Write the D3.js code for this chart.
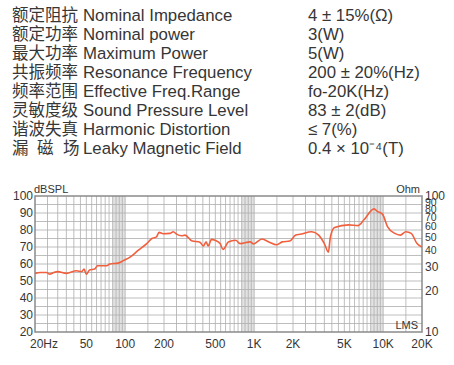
<!DOCTYPE html>
<html>
<head>
<meta charset="utf-8">
<script src="https://cdn.jsdelivr.net/npm/d3@7"></script>
<style>
  html, body { margin: 0; padding: 0; background: #fff; }
  svg { display: block; font-family: "Liberation Sans", Arial, sans-serif; }
</style>
</head>
<body>
<svg id="chart" width="454" height="365"></svg>
<script>
// spec table rows (last Chinese label is spread over the same width as the others)
const specCn = ['额定阻抗', '额定功率', '最大功率', '共振频率', '频率范围', '灵敏度级', '谐波失真', '漏 磁 场'];
const specEn = ['Nominal Impedance', 'Nominal power', 'Maximum Power', 'Resonance Frequency',
  'Effective Freq.Range', 'Sound Pressure Level', 'Harmonic Distortion', 'Leaky Magnetic Field'];
const specVal = ['4 ± 15%(Ω)', '3(W)', '5(W)', '200 ± 20%(Hz)', 'fo-20K(Hz)', '83 ± 2(dB)', '≤ 7(%)', '0.4 × 10⁻⁴(T)'];

// frequency response
const freqHz = [20, 22, 24.6, 26, 28, 30, 35, 42, 46, 48, 50, 53, 58, 61, 72, 76, 88, 97, 109, 126,
  147, 161, 175, 183, 197, 222, 236, 250, 274, 291, 328, 380, 404, 424, 440, 467, 497, 544, 573, 585,
  630, 719, 778, 932, 989, 1150, 1300, 1490, 1650, 1890, 2100, 2270, 2800, 3160, 3500, 3760, 3900, 4200,
  5400, 6400, 7100, 8500, 9000, 9900, 10800, 12300, 13600, 15000, 16500, 18300, 20000];
const splDb = [54.5, 55, 55, 54, 55, 55.5, 54.5, 56, 55.5, 57, 54, 56.5, 57, 59, 59, 60, 60.5, 62, 64, 68,
  72, 75, 76, 78.6, 77.8, 78, 79, 77.6, 76.6, 77, 73.7, 72.8, 70.6, 73, 70.6, 74.5, 74, 72, 68.6, 69,
  73, 74, 72, 73, 71.8, 74.7, 73, 71.3, 73, 73.5, 77, 77.5, 79, 77, 72, 67, 76, 81.5,
  83, 82.6, 86, 92.4, 91, 89.2, 82, 78, 77, 79, 78, 72, 70];

// axis ticks
const xTicks = [20, 50, 100, 200, 500, 1000, 2000, 5000, 10000, 20000];
const xTickLabels = ['20Hz', '50', '100', '200', '500', '1K', '2K', '5K', '10K', '20K'];
const dbTicks = [20, 30, 40, 50, 60, 70, 80, 90, 100];
const ohmTicks = [10, 20, 30, 40, 50, 60, 70, 80, 90, 100];

const svg = d3.select('#chart');
const textColor = '#363636';

// ---- spec table ----
const rows = svg.append('g').attr('fill', textColor);
const cnFont = '"Noto Sans CJK SC", sans-serif';
specEn.forEach((en, i) => {
  const y = 21 + i * 19;
  const cn = specCn[i].split(' ');
  if (cn.length === 1) {
    rows.append('text').attr('x', 12).attr('y', y)
      .attr('font-family', cnFont).attr('font-size', 16.5).text(cn[0]);
  } else {
    // spread characters to fill the four-character column
    const xs = [12, 37, 63];
    cn.forEach((ch, j) => {
      rows.append('text').attr('x', xs[j]).attr('y', y)
        .attr('font-family', cnFont).attr('font-size', 16.5).text(ch);
    });
  }
  rows.append('text').attr('x', 83).attr('y', y).attr('font-size', 16.8).text(en);
  rows.append('text').attr('x', 308).attr('y', y).attr('font-size', 16.8).text(specVal[i]);
});

// ---- chart ----
const plot = { left: 35, right: 422, top: 196, bottom: 332 };
const x = d3.scaleLog().domain([20, 20000]).range([plot.left, plot.right]);
const y = d3.scaleLinear().domain([20, 100]).range([plot.bottom, plot.top]);
const yOhm = d3.scaleLog().domain([10, 100]).range([plot.bottom, plot.top]);

// faint bands where the grid gets dense near each decade
[100, 1000, 10000].forEach((dec) => {
  svg.append('rect')
    .attr('x', x(dec * 0.8)).attr('y', plot.top)
    .attr('width', x(dec) - x(dec * 0.8)).attr('height', plot.bottom - plot.top)
    .attr('fill', '#e2e2e2');
});

// vertical grid
const mults = [1, 1.5, 2, 2.5, 3, 3.5, 4, 4.5, 5, 5.5, 6, 6.5, 7, 7.5, 8, 8.5, 9, 9.5];
const vLines = [];
[10, 100, 1000, 10000].forEach((dec) => {
  mults.forEach((m) => {
    const f = dec * m;
    if (f > 20 && f < 20000) vLines.push(f);
  });
});
svg.append('g')
  .attr('stroke', '#adadad').attr('stroke-width', 0.8)
  .selectAll('line').data(vLines).join('line')
  .attr('x1', (d) => x(d)).attr('x2', (d) => x(d))
  .attr('y1', plot.top).attr('y2', plot.bottom);

// horizontal grid, every 5 dB
svg.append('g')
  .attr('stroke', '#adadad').attr('stroke-width', 0.8)
  .selectAll('line').data(d3.range(25, 100, 5)).join('line')
  .attr('x1', plot.left).attr('x2', plot.right)
  .attr('y1', (d) => y(d)).attr('y2', (d) => y(d));

// frame
svg.append('rect')
  .attr('x', plot.left).attr('y', plot.top)
  .attr('width', plot.right - plot.left).attr('height', plot.bottom - plot.top)
  .attr('fill', 'none').attr('stroke', '#8a8a8a').attr('stroke-width', 1.5);

// response curve
const line = d3.line()
  .x((d, i) => x(freqHz[i]))
  .y((d) => y(d))
  .curve(d3.curveMonotoneX);
svg.append('path')
  .datum(splDb)
  .attr('d', line)
  .attr('fill', 'none')
  .attr('stroke', '#f0603e')
  .attr('stroke-width', 1.6)
  .attr('stroke-linejoin', 'round');

// axis labels
const labels = svg.append('g').attr('fill', textColor).attr('font-size', 12);

labels.selectAll('text.xl').data(xTicks).join('text')
  .attr('class', 'xl')
  .attr('x', (d, i) => (i === 0 ? 30 : x(d)))
  .attr('y', 348)
  .attr('text-anchor', (d, i) => (i === 0 ? 'start' : 'middle'))
  .text((d, i) => xTickLabels[i]);

labels.selectAll('text.yl').data(dbTicks).join('text')
  .attr('class', 'yl')
  .attr('x', 33).attr('y', (d) => y(d) + 4)
  .attr('text-anchor', 'end')
  .text((d) => d);

// the upper ohm ticks sit very close together; slightly smaller type there
labels.selectAll('text.ol').data(ohmTicks).join('text')
  .attr('class', 'ol')
  .attr('x', 425).attr('y', (d) => yOhm(d) + 4)
  .attr('font-size', (d) => (d >= 40 && d < 100 ? 10.5 : 12))
  .text((d) => d);

labels.append('text').attr('x', 34).attr('y', 193).attr('font-size', 11).text('dBSPL');
labels.append('text').attr('x', 420).attr('y', 193).attr('font-size', 11)
  .attr('text-anchor', 'end').text('Ohm');
labels.append('text').attr('x', 418).attr('y', 329).attr('font-size', 11)
  .attr('text-anchor', 'end').text('LMS');
</script>
</body>
</html>
